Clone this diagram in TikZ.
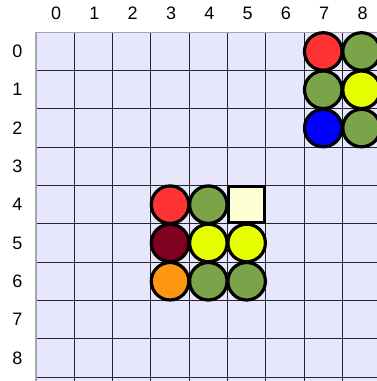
\documentclass[tikz,border=0pt]{standalone}
\usepackage{fontspec}
\setmainfont{Liberation Sans}
\definecolor{bgcell}{RGB}{230,230,252}
\definecolor{cred}{RGB}{255,51,51}
\definecolor{cgreen}{RGB}{122,163,74}
\definecolor{cyellow}{RGB}{230,255,0}
\definecolor{cblue}{RGB}{0,0,255}
\definecolor{cmaroon}{RGB}{128,0,32}
\definecolor{corange}{RGB}{255,150,17}
\definecolor{cpale}{RGB}{255,255,214}
\begin{document}
\begin{tikzpicture}[x=1pt,y=-1pt,
  disc/.style={circle,draw=black,line width=3.2pt,minimum size=37.5pt,inner sep=0pt},
  tile/.style={rectangle,draw=black,line width=2.5pt,minimum size=36pt,inner sep=0pt},
  lbl/.style={font=\fontsize{18}{22}\selectfont,inner sep=0pt}]
\useasboundingbox (0,0) rectangle (377,381);
\def\s{38.3}
\def\ox{36}
\def\oy{32.3}
\fill[bgcell] (\ox,\oy) rectangle (381,381);
\foreach \i in {1,...,9} {
  \draw[black!85,line width=1pt] ({\ox+\i*\s},\oy) -- ({\ox+\i*\s},381);
  \draw[black!85,line width=1pt] (\ox,{\oy+\i*\s}) -- (381,{\oy+\i*\s});
}
\draw[black!35,line width=1.2pt] (\ox,381) -- (\ox,\oy) -- (381,\oy);
\foreach \i in {0,...,8} {
  \node[lbl] (col\i) at ({\ox+(\i+0.5)*\s+1},13.5) {\i};
  \node[lbl] (row\i) at (17.3,{\oy+(\i+0.5)*\s}) {\i};
}
\newcommand\cellat[2]{({\ox+(#1+0.5)*\s},{\oy+(#2+0.5)*\s})}
\node[disc,fill=cred] (d70) at \cellat{7}{0} {};
\node[disc,fill=cgreen] (d80) at \cellat{8}{0} {};
\node[disc,fill=cgreen] (d71) at \cellat{7}{1} {};
\node[disc,fill=cyellow] (d81) at \cellat{8}{1} {};
\node[disc,fill=cblue] (d72) at \cellat{7}{2} {};
\node[disc,fill=cgreen] (d82) at \cellat{8}{2} {};
\node[disc,fill=cred] (d34) at \cellat{3}{4} {};
\node[disc,fill=cgreen] (d44) at \cellat{4}{4} {};
\node[tile,fill=cpale] (t54) at \cellat{5}{4} {};
\node[disc,fill=cmaroon] (d35) at \cellat{3}{5} {};
\node[disc,fill=cyellow] (d45) at \cellat{4}{5} {};
\node[disc,fill=cyellow] (d55) at \cellat{5}{5} {};
\node[disc,fill=corange] (d36) at \cellat{3}{6} {};
\node[disc,fill=cgreen] (d46) at \cellat{4}{6} {};
\node[disc,fill=cgreen] (d56) at \cellat{5}{6} {};
\end{tikzpicture}
\end{document}
